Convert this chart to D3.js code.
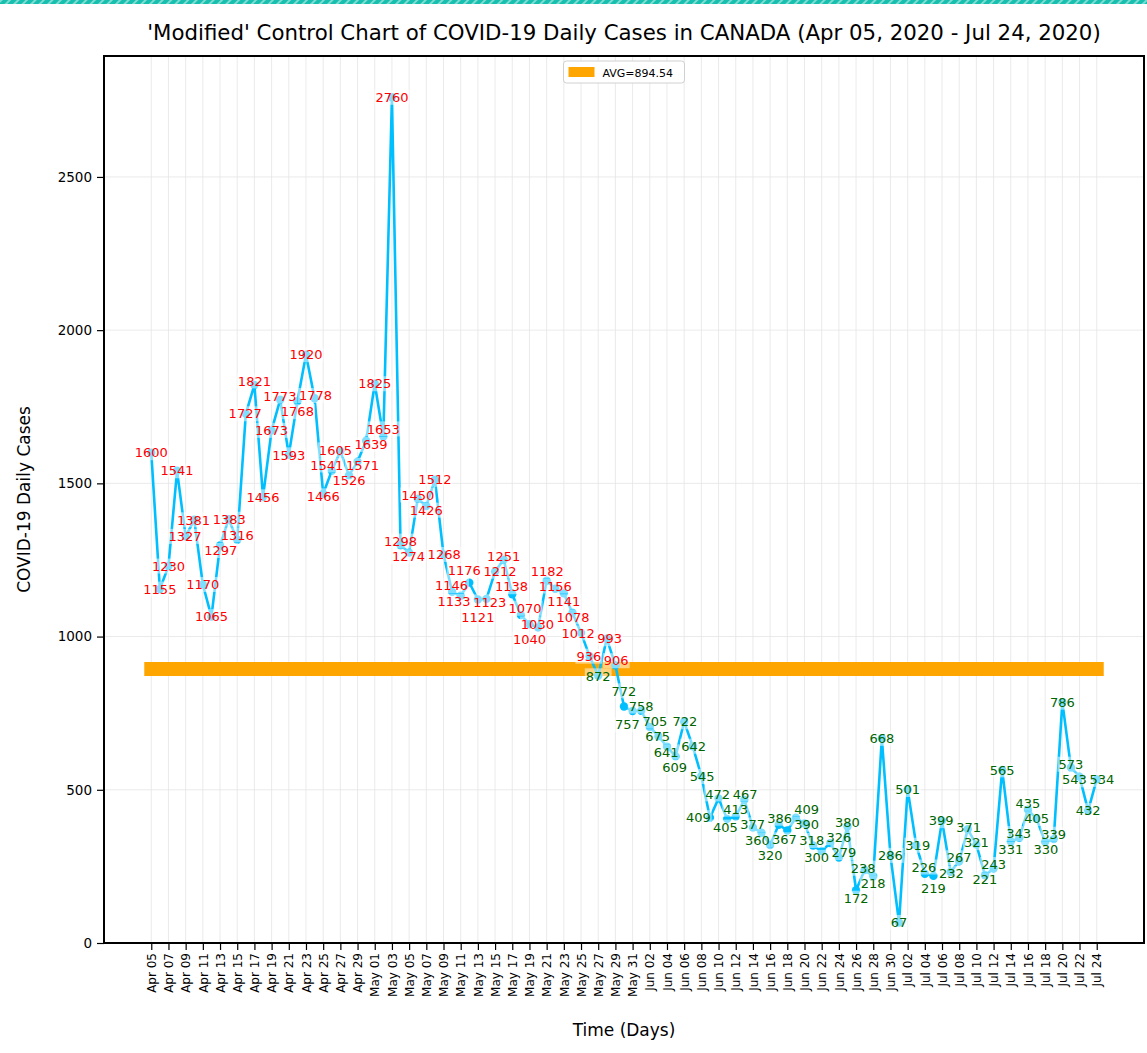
<!DOCTYPE html>
<html>
<head>
<meta charset="utf-8">
<script src="https://cdn.jsdelivr.net/npm/d3@7"></script>
<style>
body { margin: 0; background: #fff; font-family: "DejaVu Sans", sans-serif; }
</style>
</head>
<body>
<div class="container"></div>
<script>
// daily new cases, Apr 05 2020 .. Jul 24 2020
var startDate = new Date(2020, 3, 5);
var cases = [
  1600, 1155, 1230, 1541, 1327, 1381, 1170, 1065, 1297, 1383, 1316, 1727, 1821, 1456,
  1673, 1773, 1593, 1768, 1920, 1778, 1466, 1541, 1605, 1526, 1571, 1639,
  1825, 1653, 2760, 1298, 1274, 1450, 1426, 1512, 1268, 1146, 1133, 1176, 1121, 1123,
  1212, 1251, 1138, 1070, 1040, 1030, 1182, 1156, 1141, 1078, 1012, 936, 872, 993, 906,
  772, 757,
  758, 705, 675, 641, 609, 722, 642, 545, 409, 472, 405, 413, 467, 377, 360, 320, 386,
  367, 409, 390, 318, 300, 326, 279, 380, 172, 238, 218, 668, 286,
  67, 501, 319, 226, 219, 399, 232, 267, 371, 321, 221, 243, 565, 331, 343, 435, 405,
  330, 339, 786, 573, 543, 432, 534
];
var avgValue = 894.54;
var yTicks = [0, 500, 1000, 1500, 2000, 2500];
var dates = cases.map(function(d, i) { return d3.timeDay.offset(startDate, i); });

var W = 1147, H = 1053;
var margin = {top: 56, right: 3, bottom: 110, left: 104};
var pw = W - margin.left - margin.right,
    ph = H - margin.top - margin.bottom;

var svg = d3.select("div.container").append("svg")
    .attr("width", W)
    .attr("height", H);

// decorative stripe at the top
var defs = svg.append("defs");
var pat = defs.append("pattern")
    .attr("id", "stripe")
    .attr("width", 6).attr("height", 6)
    .attr("patternUnits", "userSpaceOnUse")
    .attr("patternTransform", "rotate(45)");
pat.append("rect").attr("width", 6).attr("height", 6).attr("fill", "#17bfae");
pat.append("rect").attr("width", 2).attr("height", 6).attr("fill", "#7fdcd2");
svg.append("rect").attr("x", 0).attr("y", 0).attr("width", W).attr("height", 4)
    .attr("fill", "url(#stripe)");

var n = cases.length;
var ymin = d3.min(cases), ymax = d3.max(cases);
var x = d3.scaleLinear()
    .domain([-0.05 * (n - 1), (n - 1) * 1.05])
    .range([margin.left, margin.left + pw]);
var y = d3.scaleLinear()
    .domain([0, ymax + 0.05 * (ymax - ymin)])
    .range([margin.top + ph, margin.top]);

var fmt = d3.timeFormat("%b %d");
var tickIdx = d3.range(0, n, 2);

// grid
var grid = svg.append("g");
grid.selectAll(".vg").data(tickIdx).enter().append("line")
    .attr("x1", function(d) { return x(d); }).attr("x2", function(d) { return x(d); })
    .attr("y1", margin.top).attr("y2", margin.top + ph)
    .attr("stroke", "#e4e4e4").attr("stroke-width", 0.8);
grid.selectAll(".hg").data(yTicks).enter().append("line")
    .attr("x1", margin.left).attr("x2", margin.left + pw)
    .attr("y1", function(d) { return y(d); }).attr("y2", function(d) { return y(d); })
    .attr("stroke", "#e4e4e4").attr("stroke-width", 0.8);

// average line
svg.append("line")
    .attr("x1", x(0)).attr("x2", x(n - 1))
    .attr("y1", y(avgValue)).attr("y2", y(avgValue))
    .attr("stroke", "#FFA500").attr("stroke-width", 14)
    .attr("stroke-linecap", "square");

// series line and markers
svg.append("path")
    .datum(cases)
    .attr("fill", "none")
    .attr("stroke", "#00BFFF")
    .attr("stroke-width", 2.6)
    .attr("d", d3.line().x(function(d, i) { return x(i); }).y(function(d) { return y(d); }));
svg.selectAll(".pt").data(cases).enter().append("circle")
    .attr("cx", function(d, i) { return x(i); })
    .attr("cy", function(d) { return y(d); })
    .attr("r", 4.2)
    .attr("fill", "#00BFFF");

// value labels, nudged apart so they do not overlap
var labels = cases.map(function(v, i) {
    return {v: v, i: i, x: x(i), y: y(v)};
});
var labelLayer = svg.append("g");
var txt = labelLayer.selectAll(".lbl").data(labels).enter().append("text")
    .attr("font-size", 13)
    .attr("text-anchor", "middle")
    .attr("fill", function(d) { return d.v > avgValue ? "#ff0000" : "#006400"; })
    .text(function(d) { return d.v; });
txt.each(function(d) { var b = this.getBBox(); d.w = b.width + 2; d.h = 15; });

for (var it = 0; it < 600; it++) {
    var moved = false;
    for (var a = 0; a < labels.length; a++) {
        for (var b = a + 1; b < labels.length; b++) {
            var A = labels[a], B = labels[b];
            var ox = Math.min(A.x + A.w / 2, B.x + B.w / 2) - Math.max(A.x - A.w / 2, B.x - B.w / 2);
            var oy = Math.min(A.y + A.h / 2, B.y + B.h / 2) - Math.max(A.y - A.h / 2, B.y - B.h / 2);
            if (ox > 0 && oy > 0) {
                moved = true;
                if (oy < ox) {
                    var s = A.y < B.y ? -1 : 1;
                    A.y += s * (oy / 2 + 0.3); B.y -= s * (oy / 2 + 0.3);
                } else {
                    var s2 = A.x < B.x ? -1 : 1;
                    A.x += s2 * (ox / 2 + 0.3); B.x -= s2 * (ox / 2 + 0.3);
                }
            }
        }
    }
    if (!moved) break;
}

// semi-transparent box behind each label (sits over the line, like the original)
labelLayer.selectAll(".bg").data(labels).enter().insert("rect", "text")
    .attr("x", function(d) { return d.x - d.w / 2; })
    .attr("y", function(d) { return d.y - d.h / 2; })
    .attr("width", function(d) { return d.w; })
    .attr("height", function(d) { return d.h; })
    .attr("fill", "#fff").attr("fill-opacity", 0.5);
txt.attr("x", function(d) { return d.x; })
    .attr("y", function(d) { return d.y; })
    .attr("dy", "0.36em");

// axes
var xAxis = svg.append("g")
    .attr("transform", "translate(0," + (margin.top + ph) + ")")
    .call(d3.axisBottom(x).tickValues(tickIdx).tickFormat(function(d) { return fmt(dates[d]); })
        .tickSize(7).tickSizeOuter(0));
xAxis.select(".domain").remove();
xAxis.selectAll(".tick line").attr("stroke", "#000").attr("stroke-width", 1.2);
xAxis.selectAll(".tick text")
    .attr("font-family", "DejaVu Sans").attr("font-size", 12).attr("fill", "#000")
    .attr("transform", "rotate(-90)")
    .attr("text-anchor", "end")
    .attr("x", -10).attr("y", 0).attr("dy", "0.35em");

var yAxis = svg.append("g")
    .attr("transform", "translate(" + margin.left + ",0)")
    .call(d3.axisLeft(y).tickValues(yTicks).tickFormat(d3.format("d")).tickSize(7).tickPadding(5));
yAxis.select(".domain").remove();
yAxis.selectAll(".tick line").attr("stroke", "#000").attr("stroke-width", 1.2);
yAxis.selectAll(".tick text").attr("font-family", "DejaVu Sans").attr("font-size", 13.5).attr("fill", "#000");

// frame
svg.append("rect")
    .attr("x", margin.left).attr("y", margin.top)
    .attr("width", pw).attr("height", ph)
    .attr("fill", "none").attr("stroke", "#000").attr("stroke-width", 2);

// legend
var lg = svg.append("g").attr("transform", "translate(" + (margin.left + pw / 2 - 60.5) + "," + (margin.top + 5) + ")");
lg.append("rect").attr("width", 121).attr("height", 22).attr("rx", 3)
    .attr("fill", "#fff").attr("stroke", "#d0d0d0");
lg.append("rect").attr("x", 5).attr("y", 6).attr("width", 26).attr("height", 10).attr("fill", "#FFA500");
lg.append("text").attr("x", 39).attr("y", 15.5).attr("font-size", 11).text("AVG=" + avgValue.toFixed(2));

// titles
svg.append("text")
    .attr("x", margin.left + pw / 2).attr("y", 40)
    .attr("text-anchor", "middle").attr("font-size", 21.3)
    .text("'Modified' Control Chart of COVID-19 Daily Cases in CANADA (Apr 05, 2020 - Jul 24, 2020)");
svg.append("text")
    .attr("x", margin.left + pw / 2).attr("y", 1036)
    .attr("text-anchor", "middle").attr("font-size", 17)
    .text("Time (Days)");
svg.append("text")
    .attr("transform", "translate(30," + (margin.top + ph / 2) + ") rotate(-90)")
    .attr("text-anchor", "middle").attr("font-size", 17)
    .text("COVID-19 Daily Cases");
</script>
</body>
</html>
